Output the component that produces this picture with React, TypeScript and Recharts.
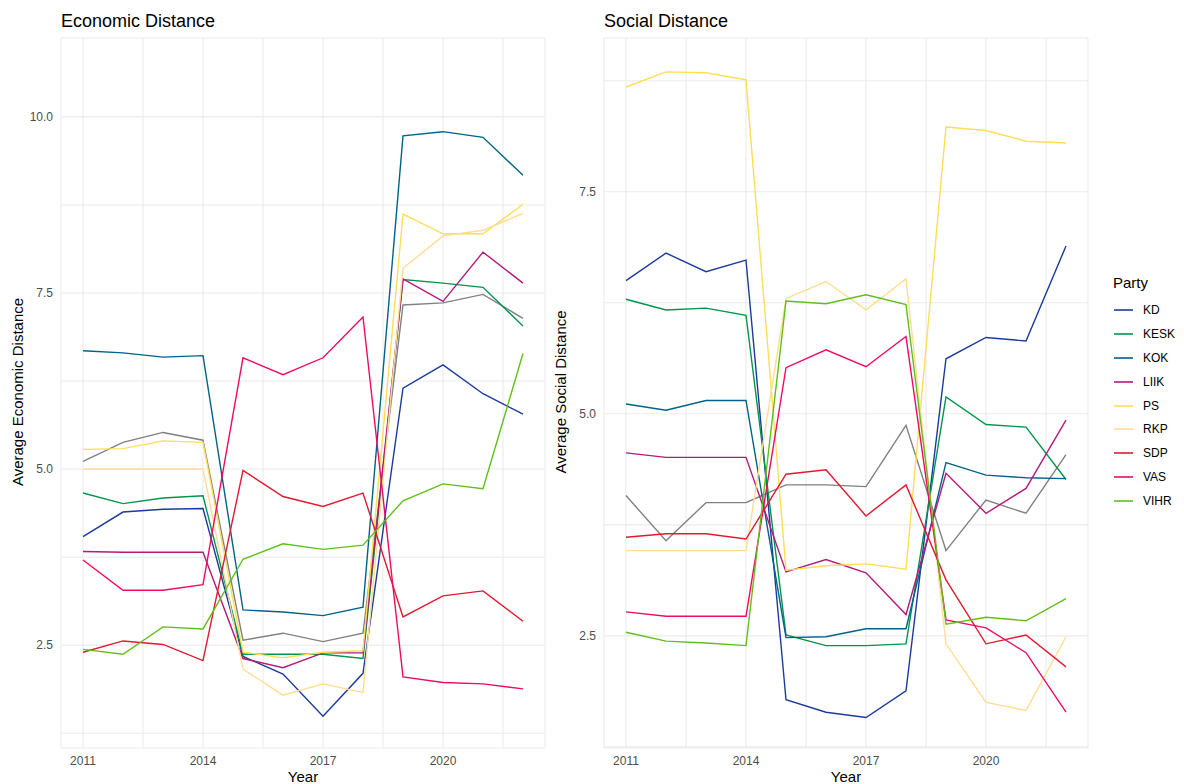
import React from "react";
import { LineChart, Line, XAxis, YAxis, CartesianGrid } from "recharts";

const years = [2011, 2012, 2013, 2014, 2015, 2016, 2017, 2018, 2019, 2020, 2021, 2022];

const parties = ["KD", "KESK", "KOK", "LIIK", "PS", "RKP", "SDP", "VAS", "VIHR"];

const partyColors: Record<string, string> = {
  KD: "#1B3A9E",
  KESK: "#01954B",
  KOK: "#006288",
  LIIK: "#B31B7B",
  PS: "#FFDE55",
  RKP: "#FFDD93",
  SDP: "#E11931",
  VAS: "#F00A64",
  VIHR: "#61BF1A",
  OTHER: "#808080",
};

// economic distance per party, 2011..2022
const econKD = [4.04, 4.39, 4.43, 4.44, 2.34, 2.09, 1.49, 2.1, 6.15, 6.48, 6.07, 5.78];
const econKESK = [4.66, 4.51, 4.59, 4.62, 2.37, 2.37, 2.37, 2.31, 7.69, 7.64, 7.58, 7.03];
const econKOK = [6.68, 6.65, 6.59, 6.61, 3.0, 2.97, 2.92, 3.04, 9.73, 9.79, 9.71, 9.17];
const econLIIK = [3.83, 3.82, 3.82, 3.82, 2.31, 2.18, 2.39, 2.39, 7.7, 7.38, 8.08, 7.64];
const econPS = [5.28, 5.29, 5.4, 5.38, 2.4, 2.32, 2.4, 2.42, 8.62, 8.34, 8.34, 8.76];
const econRKP = [5.0, 5.0, 5.0, 5.0, 2.16, 1.79, 1.95, 1.83, 7.85, 8.31, 8.39, 8.63];
const econSDP = [2.4, 2.56, 2.51, 2.28, 4.98, 4.61, 4.47, 4.66, 2.9, 3.2, 3.27, 2.84];
const econVAS = [3.71, 3.28, 3.28, 3.36, 6.58, 6.34, 6.58, 7.16, 2.05, 1.97, 1.95, 1.88];
const econVIHR = [2.44, 2.37, 2.76, 2.73, 3.72, 3.94, 3.86, 3.92, 4.55, 4.79, 4.72, 6.64];
const econOTHER = [5.11, 5.38, 5.52, 5.41, 2.57, 2.67, 2.55, 2.67, 7.33, 7.36, 7.48, 7.14];

// social distance per party, 2011..2022
const socKD = [6.5, 6.81, 6.6, 6.73, 1.78, 1.64, 1.58, 1.88, 5.62, 5.86, 5.82, 6.89];
const socKESK = [6.29, 6.17, 6.19, 6.11, 2.51, 2.39, 2.39, 2.41, 5.19, 4.88, 4.85, 4.26];
const socKOK = [5.11, 5.04, 5.15, 5.15, 2.48, 2.49, 2.58, 2.58, 4.45, 4.31, 4.28, 4.27];
const socLIIK = [4.56, 4.51, 4.51, 4.51, 3.22, 3.36, 3.21, 2.74, 4.33, 3.88, 4.16, 4.93];
const socPS = [8.68, 8.85, 8.84, 8.76, 3.24, 3.29, 3.31, 3.25, 8.23, 8.19, 8.07, 8.05];
const socRKP = [3.46, 3.46, 3.46, 3.46, 6.3, 6.49, 6.17, 6.52, 2.41, 1.75, 1.66, 2.49];
const socSDP = [3.61, 3.65, 3.65, 3.59, 4.32, 4.37, 3.85, 4.2, 3.13, 2.41, 2.51, 2.15];
const socVAS = [2.77, 2.72, 2.72, 2.72, 5.52, 5.72, 5.53, 5.87, 2.68, 2.59, 2.31, 1.64];
const socVIHR = [2.54, 2.44, 2.42, 2.39, 6.27, 6.24, 6.34, 6.23, 2.63, 2.71, 2.67, 2.92];
const socOTHER = [4.08, 3.57, 4.0, 4.0, 4.2, 4.2, 4.18, 4.87, 3.46, 4.03, 3.88, 4.54];

const xTicks = [2011, 2012.5, 2014, 2015.5, 2017, 2018.5, 2020, 2021.5];
const yTicks = [1.25, 2.5, 3.75, 5, 6.25, 7.5, 8.75, 10];

const seriesKeys = ["OTHER", ...parties];

function buildRows(series: Record<string, number[]>) {
  return years.map((year, i) => {
    const row: Record<string, number> = { year };
    Object.keys(series).forEach((k) => {
      row[k] = series[k][i];
    });
    return row;
  });
}

const econData = buildRows({
  KD: econKD, KESK: econKESK, KOK: econKOK, LIIK: econLIIK, PS: econPS,
  RKP: econRKP, SDP: econSDP, VAS: econVAS, VIHR: econVIHR, OTHER: econOTHER,
});

const socData = buildRows({
  KD: socKD, KESK: socKESK, KOK: socKOK, LIIK: socLIIK, PS: socPS,
  RKP: socRKP, SDP: socSDP, VAS: socVAS, VIHR: socVIHR, OTHER: socOTHER,
});

const FONT = "'Liberation Sans', Arial, sans-serif";
const tickStyle = { fill: "#4D4D4D", fontSize: 12, fontFamily: FONT };

const fmtX = (v: number) => (Number.isInteger(v) ? String(v) : "");
const fmtY = (v: number) => (v % 2.5 === 0 ? v.toFixed(1) : "");

function Panel({ data, domain, left, title, yTitle }: any) {
  return (
    <div style={{ position: "absolute", left, top: 0, width: 560, height: 784 }}>
      <LineChart
        width={560}
        height={784}
        data={data}
        margin={{ top: 38, right: 15, bottom: 0, left: 0 }}
      >
        <CartesianGrid stroke="#EBEBEB" strokeWidth={1.1} />
        <XAxis
          dataKey="year"
          type="number"
          domain={[2010.45, 2022.55]}
          ticks={xTicks}
          tickFormatter={fmtX}
          axisLine={false}
          tickLine={false}
          tick={tickStyle}
          height={36}
          allowDataOverflow
        />
        <YAxis
          type="number"
          domain={domain}
          ticks={yTicks.filter((t) => t >= domain[0] && t <= domain[1])}
          tickFormatter={fmtY}
          axisLine={false}
          tickLine={false}
          tick={tickStyle}
          width={61}
          allowDataOverflow
        />
        {seriesKeys.map((k) => (
          <Line
            key={k}
            type="linear"
            dataKey={k}
            stroke={partyColors[k]}
            strokeWidth={1.4}
            dot={false}
            isAnimationActive={false}
          />
        ))}
      </LineChart>
      <div
        style={{
          position: "absolute", left: 61, top: 11, fontSize: 18,
          fontFamily: FONT, color: "#000", whiteSpace: "nowrap",
        }}
      >
        {title}
      </div>
      <div
        style={{
          position: "absolute", left: 17, top: 392, fontSize: 15,
          fontFamily: FONT, color: "#000", whiteSpace: "nowrap",
          transform: "translate(-50%, -50%) rotate(-90deg)",
        }}
      >
        {yTitle}
      </div>
      <div
        style={{
          position: "absolute", left: 303, top: 776, fontSize: 15,
          fontFamily: FONT, color: "#000", transform: "translate(-50%, -50%)",
        }}
      >
        Year
      </div>
    </div>
  );
}

function PartyLegend() {
  return (
    <div style={{ position: "absolute", left: 1113, top: 274, fontFamily: FONT }}>
      <div style={{ fontSize: 15, height: 24, color: "#000" }}>Party</div>
      {parties.map((p) => (
        <div key={p} style={{ display: "flex", alignItems: "center", height: 23.9 }}>
          <svg width={22} height={4} style={{ marginRight: 8 }}>
            <line x1={1} y1={2} x2={20} y2={2} stroke={partyColors[p]} strokeWidth={1.6} />
          </svg>
          <span style={{ fontSize: 12, color: "#000" }}>{p}</span>
        </div>
      ))}
    </div>
  );
}

export default function App() {
  return (
    <div
      style={{
        position: "absolute", left: 0, top: 0, width: 1184, height: 784,
        background: "#fff", overflow: "hidden",
      }}
    >
      <Panel
        data={econData}
        domain={[1.04, 11.12]}
        left={0}
        title="Economic Distance"
        yTitle="Average Economic Distance"
      />
      <Panel
        data={socData}
        domain={[1.237, 9.232]}
        left={543}
        title="Social Distance"
        yTitle="Average Social Distance"
      />
      <PartyLegend />
    </div>
  );
}
